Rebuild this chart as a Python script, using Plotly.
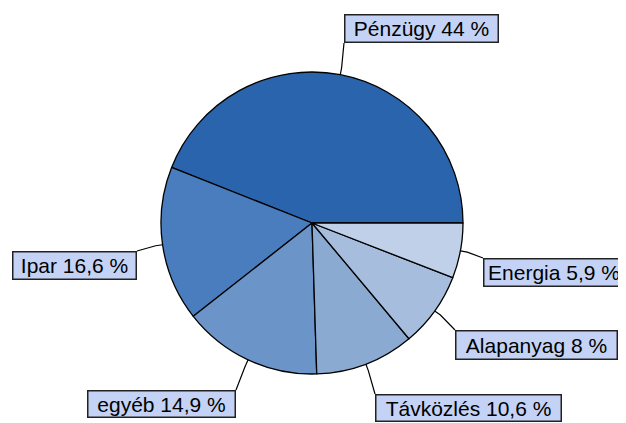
import math
import plotly.graph_objects as go

labels = ["Pénzügy", "Ipar", "egyéb", "Távközlés", "Alapanyag", "Energia"]
values = [44, 16.6, 14.9, 10.6, 8, 5.9]
value_text = ["44", "16,6", "14,9", "10,6", "8", "5,9"]
colors = ["#2A64AC", "#4A7DBE", "#6B95C8", "#8AAAD2", "#A7BDDD", "#BFD0E8"]

W, H = 626, 423
OFF = 8  # page body margin of the browser
FW, FH = W - OFF, H - OFF
CX, CY, R = 312, 223, 151

# label boxes (left, top, right, bottom) in window pixels, and the corner the leader attaches to
boxes = {
    "Pénzügy": (344, 14, 499, 43, "bl"),
    "Ipar": (12, 251, 137, 280, "tr"),
    "egyéb": (87, 390, 236, 418, "tr"),
    "Távközlés": (375, 394, 562, 422, "tl"),
    "Alapanyag": (455, 330, 618, 360, "tl"),
    "Energia": (483, 258, 625, 287, "tl"),
}

def px(x):
    return (x - OFF) / FW

def py(y):
    return 1 - (y - OFF) / FH

total = sum(values)
start_deg = 90 - values[0] / total * 360  # first slice begins at 3 o'clock, runs counterclockwise

fig = go.Figure(go.Pie(
    labels=labels, values=values, sort=False,
    direction="counterclockwise", rotation=start_deg,
    marker=dict(colors=colors, line=dict(color="#000000", width=1.3)),
    textinfo="none", hoverinfo="label+percent",
    domain=dict(x=[px(CX - R), px(CX + R)], y=[py(CY + R), py(CY - R)]),
    showlegend=False,
))

annotations = []
shapes = []
cum = 0.0
for lab, v, vt in zip(labels, values, value_text):
    mid = (cum + v / 2) / total * 2 * math.pi
    cum += v
    ex, ey = CX + R * math.cos(mid), CY - R * math.sin(mid)
    ox, oy = CX + (R + 7) * math.cos(mid), CY - (R + 7) * math.sin(mid)
    l, t, r, b, corner = boxes[lab]
    kx = l if corner[1] == "l" else r
    ky = t if corner[0] == "t" else b
    shapes.append(dict(
        type="path", xref="paper", yref="paper",
        path=f"M {px(ex)} {py(ey)} L {px(ox)} {py(oy)} L {px(kx)} {py(ky)}",
        line=dict(color="#000000", width=1.2),
    ))
    annotations.append(dict(
        x=px((l + r) / 2), y=py((t + b) / 2), xref="paper", yref="paper",
        xanchor="center", yanchor="middle", showarrow=False,
        text=f"{lab} {vt} %",
        font=dict(family="Liberation Sans, Arial, sans-serif", size=21, color="#000000"),
        bgcolor="#C4D3F5", bordercolor="#222222", borderwidth=1.5, borderpad=0,
        width=r - l - 3, height=b - t - 3,
    ))

fig.update_layout(
    width=FW, height=FH, margin=dict(l=0, r=0, t=0, b=0),
    paper_bgcolor="#FFFFFF", plot_bgcolor="#FFFFFF",
    annotations=annotations, shapes=shapes,
)

fig.write_html("out.html")
